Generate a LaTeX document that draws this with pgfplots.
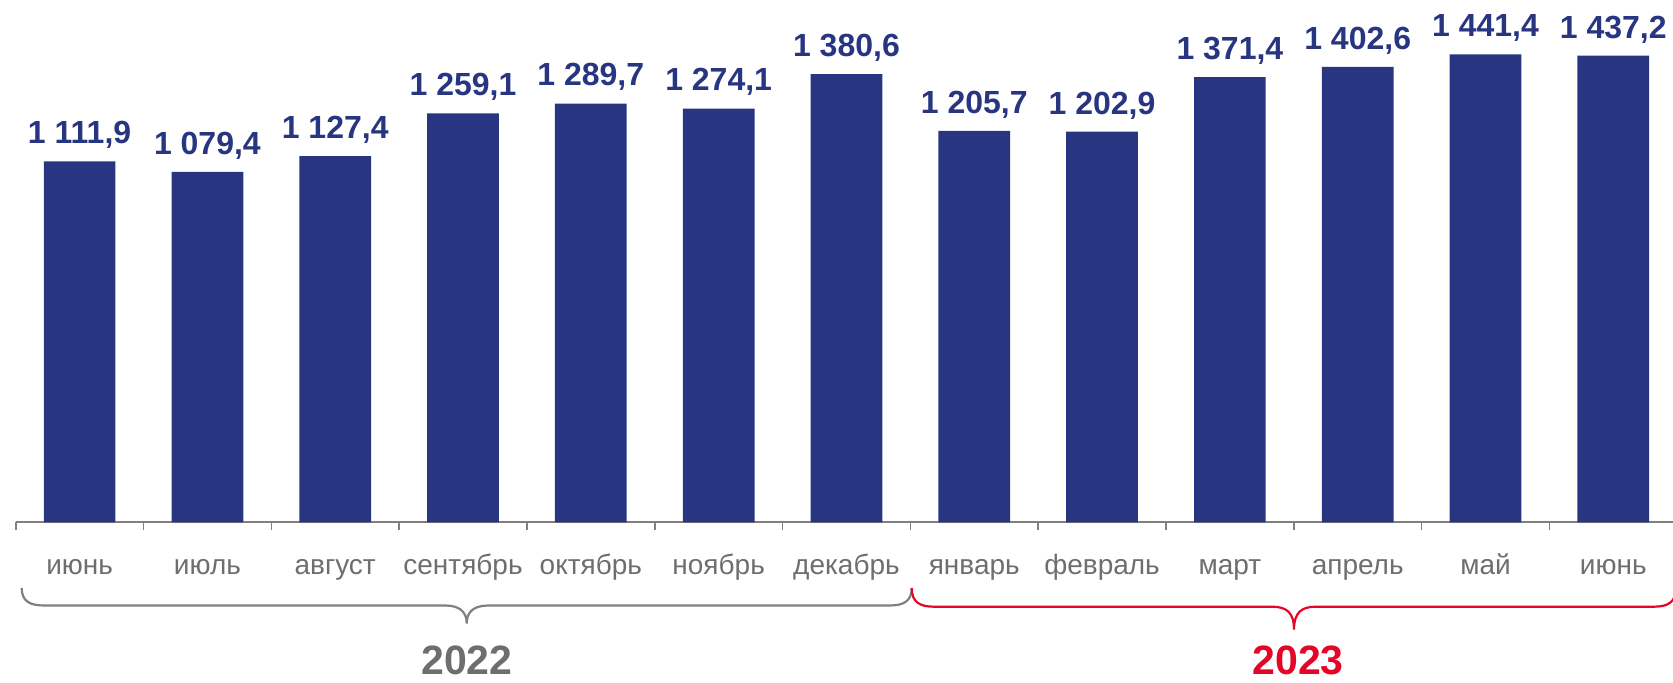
\documentclass[border=0pt]{standalone}
\usepackage{fontspec}
\setmainfont{Liberation Sans}
\usepackage{pgfplots}
\pgfplotsset{compat=1.18}
\definecolor{barblue}{RGB}{40,54,130}
\definecolor{txtgray}{RGB}{110,110,110}
\definecolor{lgray}{RGB}{128,128,128}
\definecolor{yred}{RGB}{227,6,40}
\begin{document}
\begin{tikzpicture}
\useasboundingbox (0,0) rectangle (836.5pt,341.5pt);
\begin{axis}[
 at={(7.85pt,80.35pt)}, anchor=south west,
 scale only axis, width=830.75pt, height=261.15pt,
 xmin=-0.5, xmax=12.5, ymin=0, ymax=1608.6,
 axis x line=bottom, axis y line=none,
 axis line style={-, lgray, line width=1pt},
 xtick={-0.5,0.5,...,12.5},
 xticklabels={июнь,июль,август,сентябрь,октябрь,ноябрь,декабрь,январь,февраль,март,апрель,май,июнь},
 x tick label as interval,
 tick align=outside, major tick length=4pt,
 tick style={lgray, line width=0.8pt},
 xticklabel style={font=\fontsize{14pt}{16pt}\selectfont, text=txtgray, anchor=base, yshift=-22.2pt, inner sep=0pt},
 ytick=\empty,
 clip=false,
 ybar, bar width=35.85pt, bar shift=0pt,
 nodes near coords={\pgfmathprintnumber[assume math mode=true, use comma, fixed, fixed zerofill, precision=1, 1000 sep={\ }]{\pgfplotspointmeta}},
 every node near coord/.append style={font=\fontsize{16pt}{18pt}\selectfont\bfseries, text=barblue, anchor=base, yshift=8.8pt, inner sep=0pt},
]
\addplot[fill=barblue, draw=none] coordinates {
(0,1111.9) (1,1079.4) (2,1127.4) (3,1259.1) (4,1289.7) (5,1274.1) (6,1380.6)
(7,1205.7) (8,1202.9) (9,1371.4) (10,1402.6) (11,1441.4) (12,1437.2)};
\end{axis}
\begin{scope}[x=0.5pt,y=-0.5pt,shift={(0,341.5pt)}]
\draw[lgray, line width=1.1pt]
 (21.7,588) .. controls (21.7,601) and (29.7,605.5) .. (43.7,605.5)
 -- (444.7,605.5) .. controls (458.7,605.5) and (466.7,611) .. (466.7,623.5)
 .. controls (466.7,611) and (474.7,605.5) .. (488.7,605.5)
 -- (889.7,605.5) .. controls (903.7,605.5) and (911.7,601) .. (911.7,588);
\draw[yred, line width=1.1pt]
 (911.7,588) .. controls (911.7,602) and (919.7,606.7) .. (933.7,606.7)
 -- (1272,606.7) .. controls (1286,606.7) and (1294,612) .. (1294,629.5)
 .. controls (1294,612) and (1302,606.7) .. (1316,606.7)
 -- (1654,606.7) .. controls (1668,606.7) and (1676,602) .. (1676,588);
\node[anchor=base, inner sep=0pt, text=txtgray, font=\fontsize{20.5pt}{24pt}\selectfont\bfseries] at (467,675) {2022};
\node[anchor=base, inner sep=0pt, text=yred, font=\fontsize{20.5pt}{24pt}\selectfont\bfseries] at (1298,675) {2023};
\end{scope}
\end{tikzpicture}
\end{document}
